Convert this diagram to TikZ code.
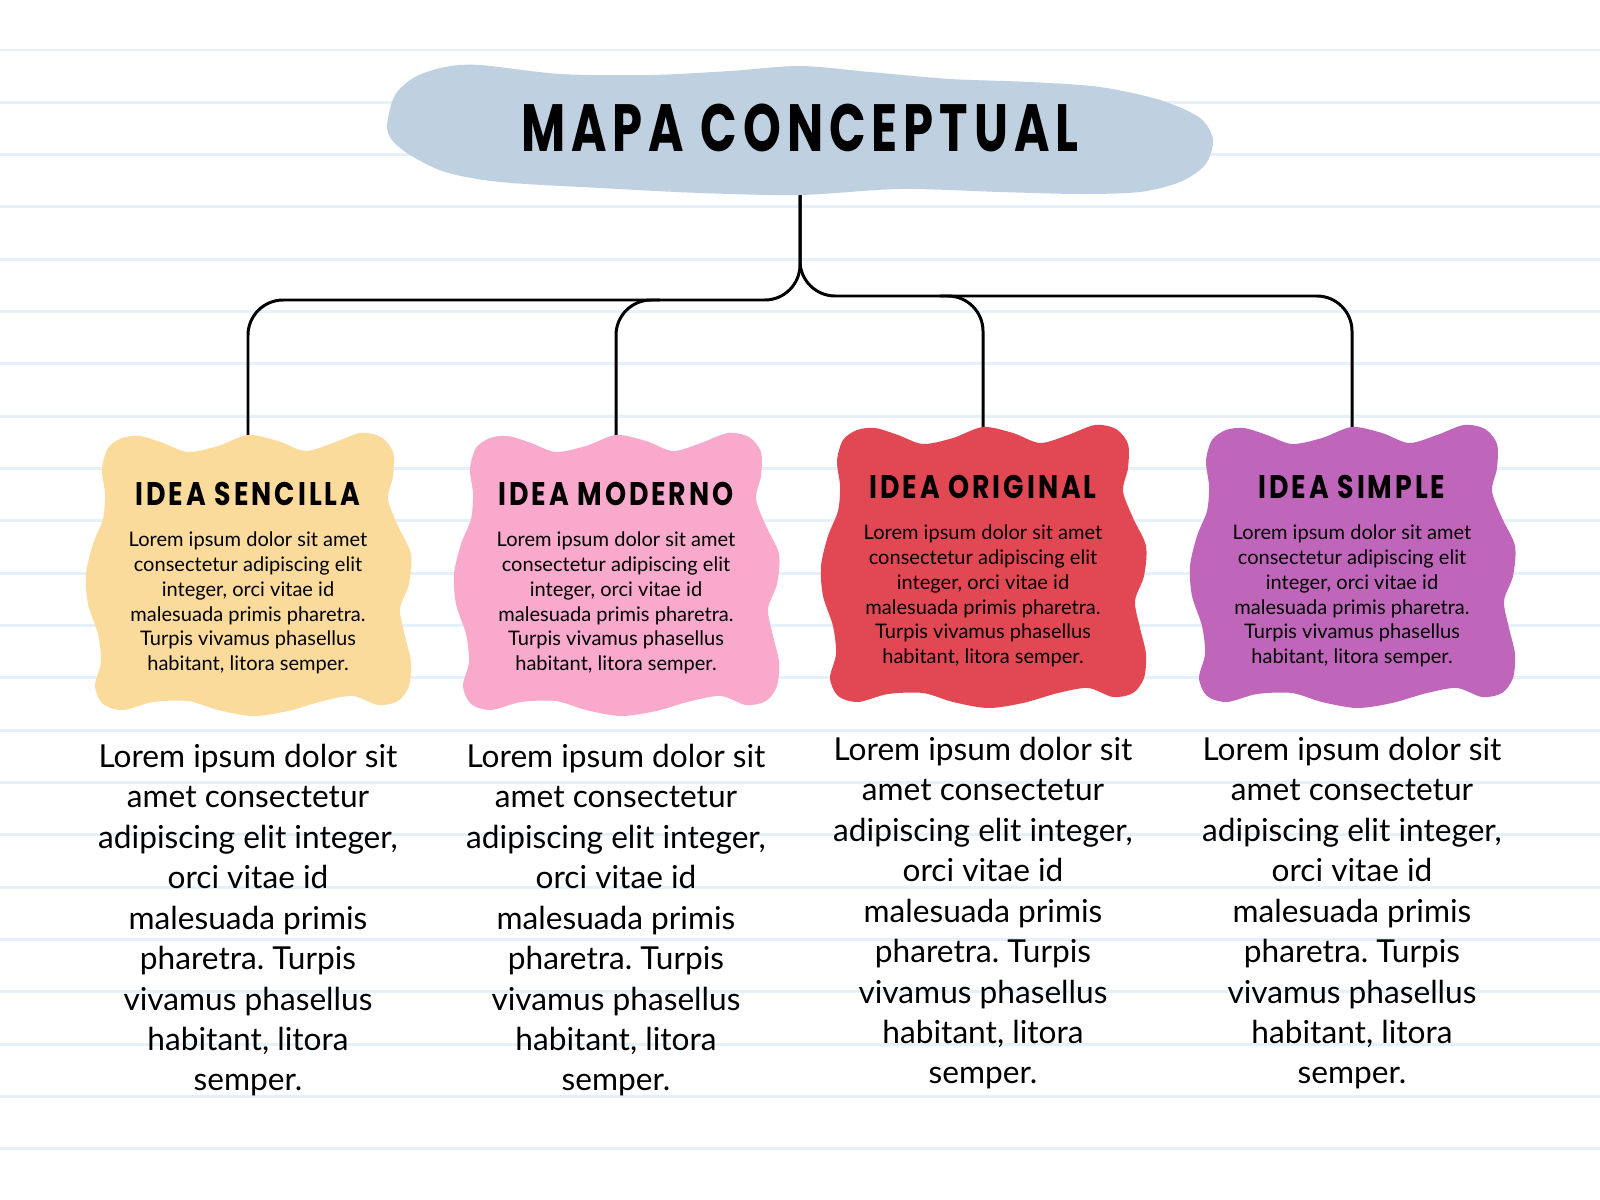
\documentclass[tikz,border=0pt]{standalone}
\usepackage{fontspec}
\setmainfont{Lato}
\newfontfamily\handfont[FakeStretch=0.82, LetterSpace=9]{Poppins}
\newfontfamily\titlefont[FakeStretch=0.72, LetterSpace=9]{Poppins}
\usetikzlibrary{positioning}
\frenchspacing

\definecolor{ruleblue}{RGB}{230,240,249}
\definecolor{titleblue}{RGB}{191,209,225}
\definecolor{ideayellow}{RGB}{251,219,155}
\definecolor{ideapink}{RGB}{248,169,204}
\definecolor{ideared}{RGB}{226,72,84}
\definecolor{ideapurple}{RGB}{191,102,187}

\newcommand{\blobshape}[2]{%
  \fill[#2, shift={(#1)}] plot[smooth cycle] coordinates {
    (-146,-105) (-140,-126) (-126,-136) (-108,-138) (-85,-131) (-60,-122)
    (-30,-128) (0,-139) (30,-133) (57,-123) (85,-131) (112,-141) (133,-137)
    (145,-122) (145,-98) (140,-75) (150,-48) (163,-20) (161,10) (152,35)
    (157,62) (163,88) (161,112) (150,127) (130,131) (105,122) (75,127)
    (40,137) (5,142) (-30,136) (-60,127) (-95,128) (-125,136) (-145,130)
    (-153,112) (-147,88) (-150,60) (-160,30) (-162,0) (-155,-30) (-145,-55)
    (-143,-80)};}

\begin{document}
\begin{tikzpicture}[x=0.01cm, y=-0.01cm, inner sep=0pt, node distance=7pt]
    \tikzstyle{rule}=[draw=ruleblue, line width=0.85pt]
    \tikzstyle{wire}=[draw=black, line width=0.85pt, rounded corners=10pt]
    \tikzstyle{title}=[font=\titlefont\bfseries\fontsize{19}{19}\selectfont]
    \tikzstyle{head}=[font=\handfont\bfseries\fontsize{9.3}{9.3}\selectfont]
    \tikzstyle{small}=[align=center, font=\fontsize{5.7}{7.06}\selectfont]
    \tikzstyle{long}=[align=center, font=\fontsize{9}{11.5}\selectfont]

    \fill[white] (0,0) rectangle (1600,1200);
    \useasboundingbox (0,0) rectangle (1600,1200);
    \foreach \k in {0,...,21}
        \draw[rule] (0,{50+52.33*\k}) -- (1600,{50+52.33*\k});

    \node[title] (T) at (800,128) {MAPA CONCEPTUAL};
    \node[head] (H1) at (248,494) {IDEA SENCILLA};
    \node[head] (H2) at (616,494) {IDEA MODERNO};
    \node[head] (H3) at (983,487) {IDEA ORIGINAL};
    \node[head] (H4) at (1352,487) {IDEA SIMPLE};

    \coordinate (busL) at (800,300);
    \coordinate (busR) at (800,296);
    \coordinate (J2) at (660,300);
    \coordinate (J3) at (940,296);

    \draw[wire] (T.south) -- (busL) -| (H1.north);
    \draw[wire] (T.south) -- (busR) -| (H4.north);
    \draw[wire] (J2) -| (H2.north);
    \draw[wire] (J3) -| (H3.north);

    \fill[titleblue] plot[smooth cycle] coordinates {
        (387,125) (395,95) (415,77) (445,67) (480,65) (560,74) (650,75)
        (730,71) (800,66) (870,72) (950,79) (1030,82) (1100,87) (1160,100)
        (1200,118) (1213,140) (1205,165) (1180,182) (1140,192) (1080,194)
        (1000,192) (900,189) (800,195) (700,193) (600,188) (500,182)
        (445,172) (410,155) (392,140)};
    \blobshape{248,574}{ideayellow}
    \blobshape{616,574}{ideapink}
    \blobshape{983,566}{ideared}
    \blobshape{1352,566}{ideapurple}

    \node[title] at (T) {MAPA CONCEPTUAL};
    \node[head] at (H1) {IDEA SENCILLA};
    \node[head] at (H2) {IDEA MODERNO};
    \node[head] at (H3) {IDEA ORIGINAL};
    \node[head] at (H4) {IDEA SIMPLE};

    \node[small, below=of H1] (S1) {Lorem ipsum dolor sit amet\\consectetur adipiscing elit\\integer, orci vitae id\\malesuada primis pharetra.\\Turpis vivamus phasellus\\habitant, litora semper.};
    \node[small, below=of H2] (S2) {Lorem ipsum dolor sit amet\\consectetur adipiscing elit\\integer, orci vitae id\\malesuada primis pharetra.\\Turpis vivamus phasellus\\habitant, litora semper.};
    \node[small, below=of H3] (S3) {Lorem ipsum dolor sit amet\\consectetur adipiscing elit\\integer, orci vitae id\\malesuada primis pharetra.\\Turpis vivamus phasellus\\habitant, litora semper.};
    \node[small, below=of H4] (S4) {Lorem ipsum dolor sit amet\\consectetur adipiscing elit\\integer, orci vitae id\\malesuada primis pharetra.\\Turpis vivamus phasellus\\habitant, litora semper.};

    \node[long, below=19.5pt of S1] (L1) {Lorem ipsum dolor sit\\amet consectetur\\adipiscing elit integer,\\orci vitae id\\malesuada primis\\pharetra. Turpis\\vivamus phasellus\\habitant, litora\\semper.};
    \node[long, below=19.5pt of S2] (L2) {Lorem ipsum dolor sit\\amet consectetur\\adipiscing elit integer,\\orci vitae id\\malesuada primis\\pharetra. Turpis\\vivamus phasellus\\habitant, litora\\semper.};
    \node[long, below=19.5pt of S3] (L3) {Lorem ipsum dolor sit\\amet consectetur\\adipiscing elit integer,\\orci vitae id\\malesuada primis\\pharetra. Turpis\\vivamus phasellus\\habitant, litora\\semper.};
    \node[long, below=19.5pt of S4] (L4) {Lorem ipsum dolor sit\\amet consectetur\\adipiscing elit integer,\\orci vitae id\\malesuada primis\\pharetra. Turpis\\vivamus phasellus\\habitant, litora\\semper.};
\end{tikzpicture}
\end{document}
